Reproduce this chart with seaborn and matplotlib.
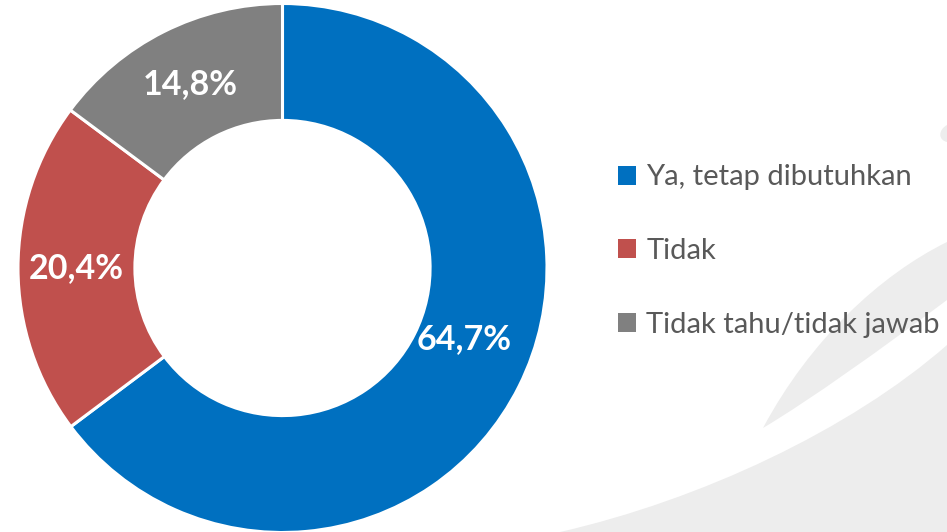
import numpy as np
import pandas as pd
import matplotlib
matplotlib.use("Agg")
import matplotlib.pyplot as plt
from matplotlib.path import Path
from matplotlib.patches import PathPatch
import seaborn as sns

# Survey answers and their shares (%)
categories = ["Ya, tetap dibutuhkan", "Tidak", "Tidak tahu/tidak jawab"]
shares = [64.7, 20.4, 14.8]
colors = ["#0070C0", "#C0504D", "#808080"]

df = pd.DataFrame({"answer": categories, "share": shares})

sns.set_theme(style="white")
plt.rcParams['font.family'] = ['Lato', 'DejaVu Sans']

fig = plt.figure(figsize=(9.47, 5.32), dpi=100)
fig.patch.set_facecolor("white")

# faint swoosh decoration in the background (figure coords)
def fig_path(points, codes):
    return PathPatch(Path([(x / 947, 1 - y / 532) for x, y in points], codes),
                     transform=fig.transFigure, facecolor="#EDEDED", edgecolor="none", zorder=-1)

C4 = Path.CURVE4
fig.patches.append(fig_path(
    [(560, 532), (700, 500), (850, 430), (947, 345), (947, 532), (560, 532)],
    [Path.MOVETO, C4, C4, C4, Path.LINETO, Path.CLOSEPOLY]))
fig.patches.append(fig_path(
    [(763, 428), (810, 340), (880, 275), (947, 242), (947, 300),
     (880, 350), (810, 400), (763, 428)],
    [Path.MOVETO, C4, C4, C4, Path.LINETO, C4, C4, C4]))
fig.patches.append(fig_path(
    [(947, 125), (938, 130), (938, 140), (947, 142)],
    [Path.MOVETO, C4, C4, C4]))

ax = fig.add_axes([18 / 947, -0.5 / 532, 529 / 947, 529 / 532])
ax.set_facecolor("none")

wedges, texts, autotexts = ax.pie(
    df["share"], colors=colors, startangle=90, counterclock=False,
    radius=1, wedgeprops=dict(width=0.442, edgecolor="white", linewidth=2.2),
    autopct=lambda p: f"{p:.1f}%".replace(".", ","), pctdistance=0.779,
    textprops=dict(color="white", fontsize=24.5, fontweight="bold"))

# match the displayed values exactly
for t, v in zip(autotexts, df["share"]):
    t.set_text(f"{v:.1f}%".replace(".", ","))
autotexts[0].set_position((autotexts[0].get_position()[0] - 0.01,
                           autotexts[0].get_position()[1] + 0.08))

ax.set_xlim(-1, 1)
ax.set_ylim(-1, 1)
ax.set_aspect("equal")
ax.axis("off")

leg = fig.legend(wedges, df["answer"], loc="center left",
                 bbox_to_anchor=(618 / 947, 1 - 251 / 532),
                 frameon=False, fontsize=21, labelcolor="#595959",
                 handlelength=0.62, handleheight=0.62, handletextpad=0.35,
                 labelspacing=1.63, borderaxespad=0, borderpad=0)
for h in leg.legend_handles:
    h.set_edgecolor("none")

fig.savefig("out.png", dpi=100, facecolor="white")
